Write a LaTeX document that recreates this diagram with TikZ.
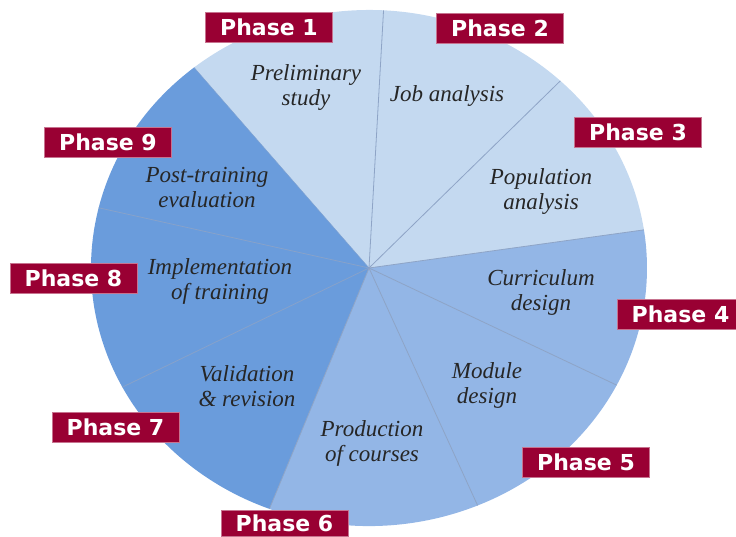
\documentclass[tikz,border=0pt]{standalone}
\usepackage{fontspec}
\setmainfont{Liberation Serif}
\newfontfamily\phasefont{DejaVu Sans}

\definecolor{lightblue}{HTML}{C4D9F0}
\definecolor{midblue}{HTML}{93B6E6}
\definecolor{darkblue}{HTML}{6A9CDC}
\definecolor{phasered}{HTML}{990033}
\definecolor{divline}{HTML}{8EA4C6}

\begin{document}
\begin{tikzpicture}[x=1pt, y=-1pt,
    phase/.style={fill=phasered, draw=phasered!55!white, line width=.6pt, text=white,
        font=\phasefont\bfseries\fontsize{22}{24}\selectfont,
        minimum width=127pt, minimum height=30pt, inner sep=0pt},
    slicetext/.style={font=\itshape\fontsize{23}{25}\selectfont, align=center, text=black!85}]
    \useasboundingbox (0,0) rectangle (736,537);
    \clip (0,0) rectangle (736,537);
    \coordinate (c) at (369,268);
    % the three colour groups of the wheel
    \fill[lightblue] (c) -- ++(-8.5:278 and 258) arc[start angle=-8.5, end angle=-129, x radius=278, y radius=258] -- cycle;
    \fill[midblue] (c) -- ++(111:278 and 258) arc[start angle=111, end angle=-8.5, x radius=278, y radius=258] -- cycle;
    \fill[darkblue] (c) -- ++(-129:278 and 258) arc[start angle=-129, end angle=-249, x radius=278, y radius=258] -- cycle;
    % dividers
    \draw[divline, line width=.8pt] (c) -- ++(-87:278 and 258);
    \draw[divline, line width=.8pt] (c) -- ++(-46.5:278 and 258);
    \draw[divline, line width=.8pt] (c) -- ++(-8.5:278 and 258);
    \draw[divline, line width=.8pt] (c) -- ++(27:278 and 258);
    \draw[divline, line width=.8pt] (c) -- ++(67:278 and 258);
    \draw[divline, line width=.8pt] (c) -- ++(111:278 and 258);
    \draw[divline!80!darkblue, line width=.8pt] (c) -- ++(152.5:278 and 258);
    \draw[divline!80!darkblue, line width=.8pt] (c) -- ++(-166.5:278 and 258);
    \draw[divline!50!darkblue, line width=.5pt] (c) -- ++(-129:278 and 258);
    % slice texts
    \node[slicetext] (prelim) at (306,88) {Preliminary\\study};
    \node[slicetext] (jobanalysis) at (447,96) {Job analysis};
    \node[slicetext] (popanalysis) at (541,192) {Population\\analysis};
    \node[slicetext] (curriculum) at (541,292) {Curriculum\\design};
    \node[slicetext] (module) at (487,385) {Module\\design};
    \node[slicetext] (production) at (372,443) {Production\\of courses};
    \node[slicetext] (validation) at (247,386) {Validation\\\& revision};
    \node[slicetext] (implement) at (220,281) {Implementation\\of training};
    \node[slicetext] (posttrain) at (207,188) {Post-training\\evaluation};
    % phase tags
    \node[phase] (ph1) at (269,27.5) {Phase 1};
    \node[phase] (ph2) at (500,28) {Phase 2};
    \node[phase] (ph3) at (638,132) {Phase 3};
    \node[phase] (ph4) at (680.5,314) {Phase 4};
    \node[phase] (ph5) at (586,462) {Phase 5};
    \node[phase, minimum height=26pt] (ph6) at (284.5,523.5) {Phase 6};
    \node[phase] (ph7) at (115.5,427.5) {Phase 7};
    \node[phase] (ph8) at (73.5,278.5) {Phase 8};
    \node[phase] (ph9) at (108,142) {Phase 9};
\end{tikzpicture}
\end{document}
